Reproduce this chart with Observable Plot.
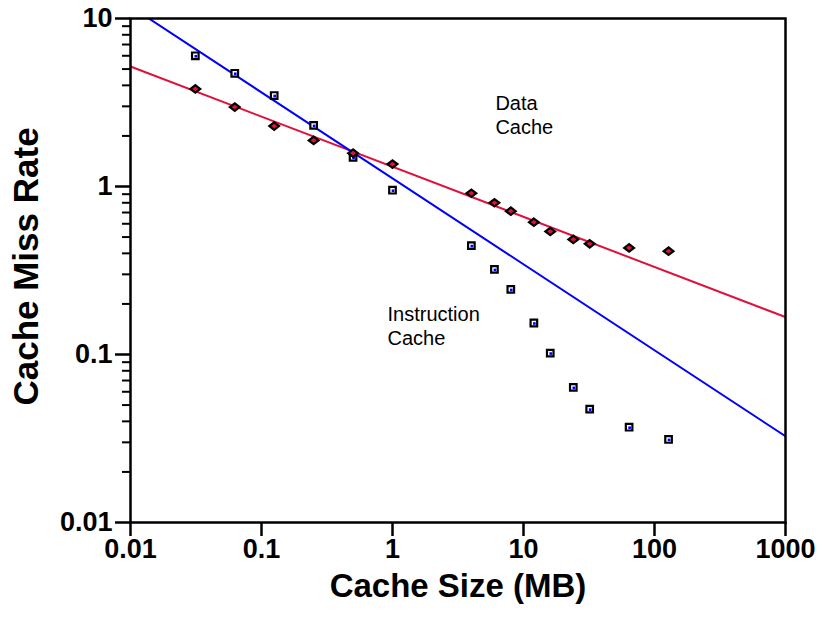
<!DOCTYPE html>
<html><head><meta charset="utf-8">
<script src="https://cdn.jsdelivr.net/npm/d3@7"></script>
<script src="https://cdn.jsdelivr.net/npm/@observablehq/plot@0.6"></script>
<style>body{margin:0;background:#fff;} svg{display:block;}</style>
</head><body><div id="chart"></div>
<script>
// ---- data ----
const cacheSizes = [0.03125, 0.0625, 0.125, 0.25, 0.5, 1, 4, 6, 8, 12, 16, 24, 32, 64, 128];
const instructionMiss = [6.0, 4.72, 3.48, 2.31, 1.49, 0.95, 0.445, 0.321, 0.244, 0.154, 0.102, 0.0637, 0.0473, 0.0369, 0.0312];
const dataMiss = [3.81, 2.97, 2.29, 1.88, 1.58, 1.36, 0.912, 0.80, 0.713, 0.613, 0.54, 0.484, 0.456, 0.431, 0.412];
const fitSizes = [0.01, 1000];
const instructionFit = [11.8, 0.0326];
const dataFit = [5.18, 0.167];
const xTicks = [0.01, 0.1, 1, 10, 100, 1000];
const xTickLabels = ["0.01", "0.1", "1", "10", "100", "1000"];
const yTicks = [0.01, 0.1, 1, 10];
const yTickLabels = ["0.01", "0.1", "1", "10"];
const seriesLabels = ["Data\nCache", "Instruction\nCache"];
const seriesLabelX = [6.1, 0.916];
const seriesLabelY = [3.58, 0.199];
const xTitle = "Cache Size (MB)";
const yTitle = "Cache Miss Rate";

const minorTicks = [];
for (const d of [0.01, 0.1, 1]) for (let k = 2; k <= 9; k++) minorTicks.push(+(d * k).toPrecision(3));

const rows = cacheSizes.map((s, i) => ({size: s, instr: instructionMiss[i], data: dataMiss[i]}));
const instrFitRows = fitSizes.map((s, i) => ({size: s, v: instructionFit[i]}));
const dataFitRows = fitSizes.map((s, i) => ({size: s, v: dataFit[i]}));
const labelRows = seriesLabels.map((t, i) => ({t, x: seriesLabelX[i], y: seriesLabelY[i]}));
const xTickRows = xTicks.map((v, i) => ({v, t: xTickLabels[i]}));
const yTickRows = yTicks.map((v, i) => ({v, t: yTickLabels[i]}));

const RED = "#e0103c", BLUE = "#0000ff";
const FONT = "'Liberation Sans', Arial, sans-serif";

const wideDiamond = {
  draw(ctx, size) {
    const r = Math.sqrt(size / Math.PI);
    const w = r * 1.25, h = r * 0.95;
    ctx.moveTo(0, -h); ctx.lineTo(w, 0); ctx.lineTo(0, h); ctx.lineTo(-w, 0); ctx.closePath();
  }
};

const chart = Plot.plot({
  width: 822, height: 627,
  marginLeft: 130, marginRight: 37, marginTop: 18, marginBottom: 105,
  style: {fontFamily: FONT, color: "black", background: "white"},
  x: {type: "log", domain: [0.01, 1000]},
  y: {type: "log", domain: [0.01, 10]},
  marks: [
    Plot.line(dataFitRows, {x: "size", y: "v", stroke: RED, strokeWidth: 2, clip: true}),
    Plot.line(instrFitRows, {x: "size", y: "v", stroke: BLUE, strokeWidth: 2, clip: true}),
    Plot.dot(rows, {x: "size", y: "instr", symbol: "square", r: 3.7, fill: "white", stroke: "black", strokeWidth: 2.2}),
    Plot.dot(rows, {x: "size", y: "instr", symbol: "square", r: 1.5, fill: BLUE, dx: 0.5, dy: 0.5}),
    Plot.dot(rows, {x: "size", y: "data", symbol: wideDiamond, r: 3.9, fill: RED, stroke: "black", strokeWidth: 2.2}),
    Plot.text(labelRows, {x: "x", y: "y", text: "t", textAnchor: "start", lineAnchor: "top", fontSize: 20, lineHeight: 1.2, fill: "black"}),
    Plot.frame({stroke: "black", strokeWidth: 2.5}),
    Plot.axisX(xTicks, {tickSize: 14, tickFormat: () => "", strokeWidth: 2.5, label: null}),
    Plot.axisY(yTicks, {tickSize: 15, tickFormat: () => "", strokeWidth: 2.5, label: null}),
    Plot.axisY(minorTicks, {tickSize: 8, tickFormat: () => "", strokeWidth: 2, label: null}),
    Plot.text(xTickRows, {x: "v", text: "t", frameAnchor: "bottom", dy: 27, fontSize: 27, fontWeight: "bold", textAnchor: "middle", lineAnchor: "middle"}),
    Plot.text(yTickRows, {y: "v", text: "t", frameAnchor: "left", dx: -18, fontSize: 27, fontWeight: "bold", textAnchor: "end", lineAnchor: "middle"}),
    Plot.text([xTitle], {frameAnchor: "bottom", dy: 64, fontSize: 33, fontWeight: "bold", textAnchor: "middle", lineAnchor: "middle"}),
    Plot.text([yTitle], {frameAnchor: "left", rotate: -90, dx: -104, dy: -4, fontSize: 35, fontWeight: "bold", textAnchor: "middle", lineAnchor: "middle"})
  ]
});
document.getElementById("chart").appendChild(chart);
</script>
</body></html>
